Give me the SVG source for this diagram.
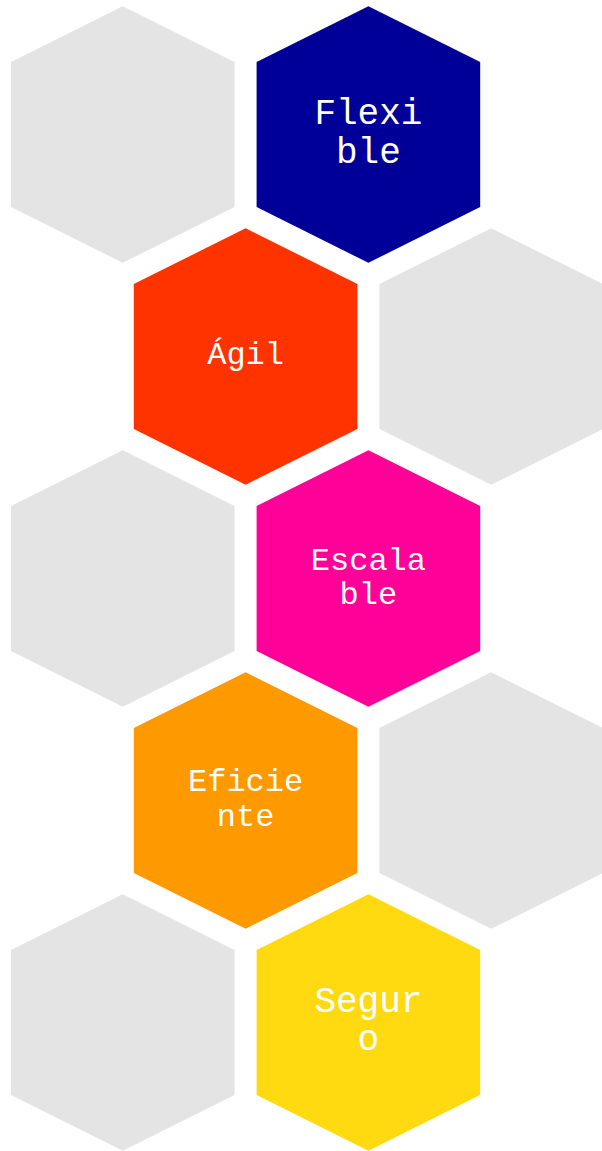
<svg xmlns="http://www.w3.org/2000/svg" xmlns:xlink="http://www.w3.org/1999/xlink" width="602" height="1151" viewBox="0 0 602 1151">
  <style>
    .lbl { font-family: "Courier New", "Liberation Mono", monospace; fill: #FFFFFF; text-anchor: middle; }
    .big { font-size: 36px; }
    .small { font-size: 32px; }
  </style>
  <defs>
    <polygon id="hex" points="0,0 111.8,55.7 111.8,200.8 0,256.5 -111.8,200.8 -111.8,55.7"/>
  </defs>
  <rect width="602" height="1151" fill="#FFFFFF"/>
  <g id="connectors"/>
  <g id="hex-gray-1"><use xlink:href="#hex" x="122.8" y="6.3" fill="#E4E4E4"/></g>
  <g id="node-flexible">
    <use xlink:href="#hex" x="368.4" y="6.3" fill="#000099"/>
    <text class="lbl big" x="368.4" y="124">Flexi</text>
    <text class="lbl big" x="368.4" y="163.3">ble</text>
  </g>
  <g id="node-agil">
    <use xlink:href="#hex" x="245.6" y="228.3" fill="#FF3300"/>
    <text class="lbl small" x="245.6" y="363.7">Ágil</text>
  </g>
  <g id="hex-gray-2"><use xlink:href="#hex" x="491.2" y="228.3" fill="#E4E4E4"/></g>
  <g id="hex-gray-3"><use xlink:href="#hex" x="122.8" y="450.3" fill="#E4E4E4"/></g>
  <g id="node-escalable">
    <use xlink:href="#hex" x="368.4" y="450.3" fill="#FF0099"/>
    <text class="lbl small" x="368.4" y="570.2">Escala</text>
    <text class="lbl small" x="368.4" y="604">ble</text>
  </g>
  <g id="node-eficiente">
    <use xlink:href="#hex" x="245.6" y="672.3" fill="#FF9900"/>
    <text class="lbl small" x="245.6" y="791">Eficie</text>
    <text class="lbl small" x="245.6" y="826">nte</text>
  </g>
  <g id="hex-gray-4"><use xlink:href="#hex" x="491.2" y="672.3" fill="#E4E4E4"/></g>
  <g id="hex-gray-5"><use xlink:href="#hex" x="122.8" y="894.3" fill="#E4E4E4"/></g>
  <g id="node-seguro">
    <use xlink:href="#hex" x="368.4" y="894.3" fill="#FFDA11"/>
    <text class="lbl big" x="368.4" y="1012.3">Segur</text>
    <text class="lbl big" x="368.4" y="1050">o</text>
  </g>
</svg>
